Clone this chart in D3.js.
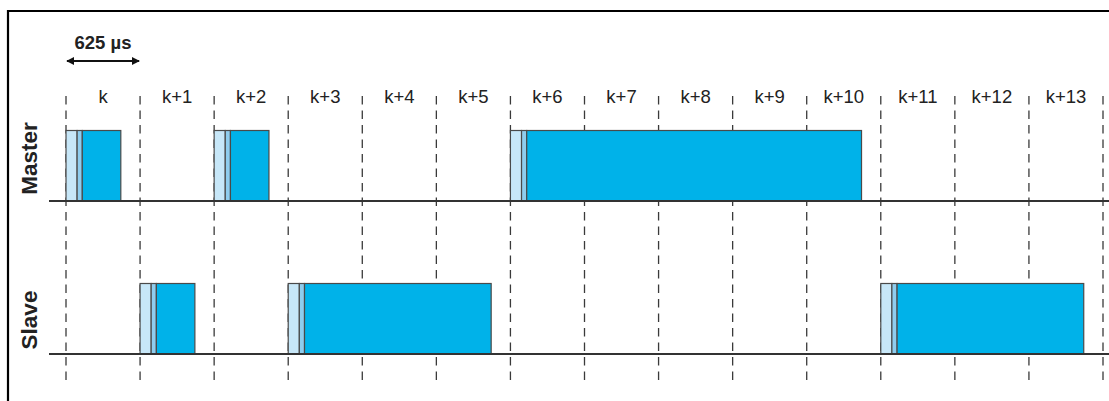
<!DOCTYPE html>
<html><head><meta charset="utf-8">
<script src="https://cdn.jsdelivr.net/npm/d3@7"></script>
<style>body{margin:0;background:#fff}svg{display:block}</style>
</head><body>
<script>
// Data
const slotLabels = ["k","k+1","k+2","k+3","k+4","k+5","k+6","k+7","k+8","k+9","k+10","k+11","k+12","k+13"];
const slotDurationLabel = "625 µs";
const rows = ["Master","Slave"];
// packets: start slot and number of slots occupied
const masterStart = [0, 2, 6];
const masterSlots = [1, 1, 5];
const slaveStart = [1, 3, 11];
const slaveSlots = [1, 3, 3];
// packet parts, in slot units
const accessCodeLen = 0.15;
const headerLen = 0.07;
const guardLen = 0.26; // idle part at end of last slot

const W = 1109, H = 401;
const svg = d3.select("body").append("svg").attr("width", W).attr("height", H);

const x = d3.scaleLinear().domain([0, slotLabels.length]).range([66, 1103]);
// baselines
const base = {Master: 201, Slave: 354};
const packetH = 70.5;
const font = "Liberation Sans, Arial, sans-serif";

// frame
svg.append("path").attr("d", `M8,${H} L8,11 L${W},11`).attr("fill","none").attr("stroke","#000").attr("stroke-width",2.2);

// dashed slot boundaries
svg.append("g").selectAll("line").data(d3.range(slotLabels.length + 1)).join("line")
  .attr("x1", d => x(d)).attr("x2", d => x(d))
  .attr("y1", 96).attr("y2", 384)
  .attr("stroke", "#3a3a3a").attr("stroke-width", 1.3)
  .attr("stroke-dasharray", "8.5,6");

// slot labels
svg.append("g").selectAll("text").data(slotLabels).join("text")
  .attr("x", (d, i) => (x(i) + x(i + 1)) / 2)
  .attr("y", 102.5)
  .attr("text-anchor", "middle")
  .attr("font-family", font)
  .attr("font-size", 18.5)
  .attr("fill", "#222")
  .text(d => d);

// duration arrow
const defs = svg.append("defs");
defs.append("marker").attr("id","ah").attr("viewBox","0 0 10 10").attr("refX",9).attr("refY",5)
  .attr("markerWidth",8).attr("markerHeight",8).attr("markerUnits","userSpaceOnUse").attr("orient","auto-start-reverse")
  .append("path").attr("d","M0,0 L10,5 L0,10 Z").attr("fill","#111");
svg.append("line").attr("x1", x(0) + 1).attr("x2", x(1) - 1).attr("y1", 61).attr("y2", 61)
  .attr("stroke", "#111").attr("stroke-width", 2)
  .attr("marker-start","url(#ah)").attr("marker-end","url(#ah)");
svg.append("text").attr("x", (x(0) + x(1)) / 2).attr("y", 48.5)
  .attr("text-anchor","middle").attr("font-family", font)
  .attr("font-weight","bold").attr("font-size",18.5).attr("fill","#222").text(slotDurationLabel);

// row labels
const rowCenter = {Master: 158.5, Slave: 320};
rows.forEach(r => {
  svg.append("text").attr("transform", `translate(37,${rowCenter[r]}) rotate(-90)`)
    .attr("text-anchor","middle").attr("font-family", font)
    .attr("font-weight","bold").attr("font-size",22.5).attr("fill","#222").text(r);
});

// packets
function drawPackets(row, starts, slots) {
  const b = base[row];
  const g = svg.append("g");
  starts.forEach((s, i) => {
    const end = s + slots[i] - guardLen;
    const parts = [
      {a: s, e: s + accessCodeLen, fill: "#c7e7f8"},
      {a: s + accessCodeLen, e: s + accessCodeLen + headerLen, fill: "#8fcdee"},
      {a: s + accessCodeLen + headerLen, e: end, fill: "#00b2e9"}
    ];
    g.selectAll(null).data(parts).join("rect")
      .attr("x", d => x(d.a)).attr("width", d => x(d.e) - x(d.a))
      .attr("y", b - packetH).attr("height", packetH)
      .attr("fill", d => d.fill).attr("stroke", "#4a4a4a").attr("stroke-width", 1.2);
  });
}
drawPackets("Master", masterStart, masterSlots);
drawPackets("Slave", slaveStart, slaveSlots);

// baselines
rows.forEach(r => {
  svg.append("line").attr("x1", 49).attr("x2", W).attr("y1", base[r]).attr("y2", base[r])
    .attr("stroke", "#333").attr("stroke-width", 2);
});
</script>
</body></html>
